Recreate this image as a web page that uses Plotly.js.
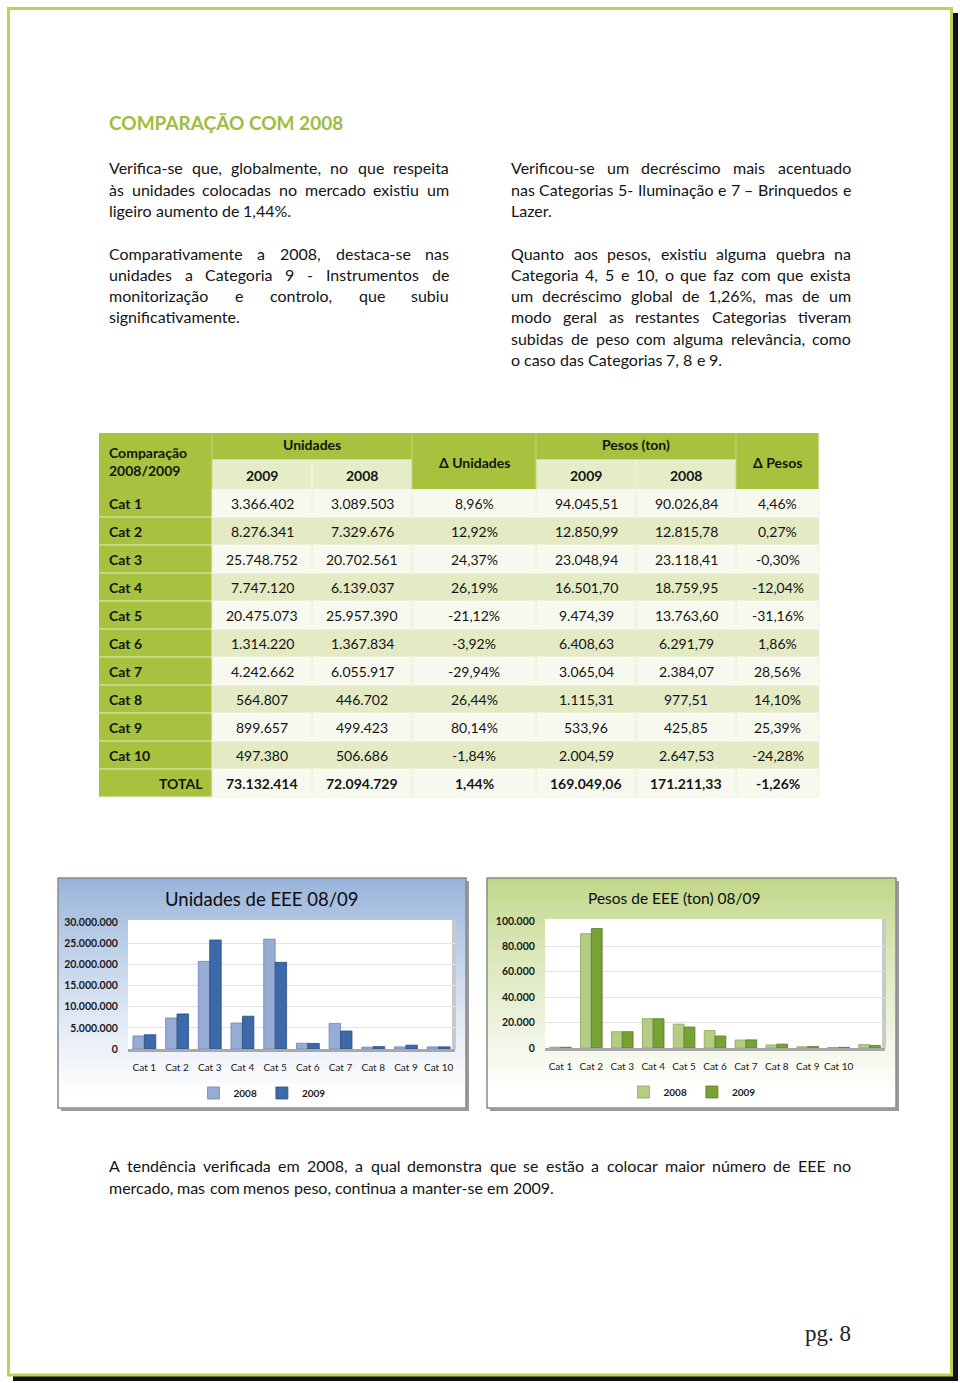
<!DOCTYPE html>
<html>
<head>
<meta charset="utf-8">
<script src="https://cdn.plot.ly/plotly-3.0.1.min.js"></script>
<style>
  html, body { margin: 0; padding: 0; background: #ffffff; }
  #page { width: 960px; height: 1383px; }
</style>
</head>
<body>
<div id="page"></div>
<script>
// ---------------- DATA ----------------
const categories = ['Cat 1', 'Cat 2', 'Cat 3', 'Cat 4', 'Cat 5', 'Cat 6', 'Cat 7', 'Cat 8', 'Cat 9', 'Cat 10'];
const units2009 = [3366402, 8276341, 25748752, 7747120, 20475073, 1314220, 4242662, 564807, 899657, 497380];
const units2008 = [3089503, 7329676, 20702561, 6139037, 25957390, 1367834, 6055917, 446702, 499423, 506686];
const unitsDelta = [8.96, 12.92, 24.37, 26.19, -21.12, -3.92, -29.94, 26.44, 80.14, -1.84];
const weights2009 = [94045.51, 12850.99, 23048.94, 16501.70, 9474.39, 6408.63, 3065.04, 1115.31, 533.96, 2004.59];
const weights2008 = [90026.84, 12815.78, 23118.41, 18759.95, 13763.60, 6291.79, 2384.07, 977.51, 425.85, 2647.53];
const weightsDelta = [4.46, 0.27, -0.30, -12.04, -31.16, 1.86, 28.56, 14.10, 25.39, -24.28];
const totalLabel = 'TOTAL';
const totalUnits2009 = 73132414;
const totalUnits2008 = 72094729;
const totalUnitsDelta = 1.44;
const totalWeights2009 = 169049.06;
const totalWeights2008 = 171211.33;
const totalWeightsDelta = -1.26;

// chart "Pesos" as drawn in the picture (one extra slot, series shifted)
const weightChartLabels = ['Cat 1', 'Cat 2', 'Cat 3', 'Cat 4', 'Cat 5', 'Cat 6', 'Cat 7', 'Cat 8', 'Cat 9', 'Cat 10', ' '];
const weightChart2008 = [600, 90026.84, 12815.78, 23118.41, 18759.95, 13763.60, 6291.79, 2384.07, 977.51, 425.85, 2647.53];
const weightChart2009 = [600, 94045.51, 12850.99, 23048.94, 16501.70, 9474.39, 6408.63, 3065.04, 1115.31, 533.96, 2004.59];

const seriesNames = ['2008', '2009'];
const chartTitles = ['Unidades de EEE 08/09', 'Pesos de EEE (ton) 08/09'];

const heading = 'COMPARAÇÃO COM 2008';
const leftParas = [
  ['Verifica-se que, globalmente, no que respeita', 'às unidades colocadas no mercado existiu um', 'ligeiro aumento de 1,44%.'],
  ['Comparativamente a 2008, destaca-se nas', 'unidades a Categoria 9 - Instrumentos de', 'monitorização e controlo, que subiu', 'significativamente.']
];
const rightParas = [
  ['Verificou-se um decréscimo mais acentuado', 'nas Categorias 5- Iluminação e 7 – Brinquedos e', 'Lazer.'],
  ['Quanto aos pesos, existiu alguma quebra na', 'Categoria 4, 5 e 10, o que faz com que exista', 'um decréscimo global de 1,26%, mas de um', 'modo geral as restantes Categorias tiveram', 'subidas de peso com alguma relevância, como', 'o caso das Categorias 7, 8 e 9.']
];
const bottomPara = ['A tendência verificada em 2008, a qual demonstra que se estão a colocar maior número de EEE no', 'mercado, mas com menos peso, continua a manter-se em 2009.'];
const tableHead = { corner: ['Comparação', '2008/2009'], units: 'Unidades', weights: 'Pesos (ton)', y2009: '2009', y2008: '2008', dUnits: 'Δ Unidades', dWeights: 'Δ Pesos' };
const pageLabel = 'pg. 8';

// ---------------- HELPERS ----------------
const W = 960, H = 1383;
const px = v => v / W;
const py = v => 1 - v / H;
const FONT = 'Lato';
const TXT = '#141414';

function fmtInt(n) { return String(Math.round(n)).replace(/\B(?=(\d{3})+(?!\d))/g, '.'); }
function fmtDec(n) {
  const s = Math.abs(n).toFixed(2).split('.');
  return (n < 0 ? '-' : '') + s[0].replace(/\B(?=(\d{3})+(?!\d))/g, '.') + ',' + s[1];
}
function fmtPct(n) { return n.toFixed(2).replace('.', ',') + '%'; }

const ctx = document.createElement('canvas').getContext('2d');
function measure(t, size, weight) { ctx.font = (weight || 400) + ' ' + size + 'px ' + FONT; return ctx.measureText(t).width; }

const anns = [];
const shapes = [];

function txt(x, y, text, opt) {
  opt = opt || {};
  anns.push({
    xref: 'paper', yref: 'paper', x: px(x), y: py(y), text: text, showarrow: false,
    xanchor: opt.xanchor || 'center', yanchor: 'middle', borderpad: 0, borderwidth: 0,
    font: { family: opt.family || FONT, size: opt.size || 14, color: opt.color || TXT, weight: opt.weight || 400 }
  });
}

function paragraph(lines, x0, x1, y0, lh, size) {
  lines.forEach((line, i) => {
    const y = y0 + i * lh;
    const last = i === lines.length - 1;
    const words = line.split(' ');
    const widths = words.map(w => measure(w, size));
    const total = widths.reduce((a, b) => a + b, 0);
    const space = measure(' ', size);
    let gap = (!last && words.length > 1) ? (x1 - x0 - total) / (words.length - 1) : space;
    if (gap < space * 0.7) gap = space * 0.7;
    let x = x0;
    words.forEach((w, k) => { txt(x, y, w, { xanchor: 'left', size: size }); x += widths[k] + gap; });
  });
}

function rect(x0, y0, x1, y1, fill, line, lw) {
  shapes.push({ type: 'rect', xref: 'paper', yref: 'paper', layer: 'below',
    x0: px(x0), x1: px(x1), y0: py(y0), y1: py(y1),
    fillcolor: fill || 'rgba(0,0,0,0)', line: { color: line || 'rgba(0,0,0,0)', width: lw || 0 } });
}
function seg(x0, y0, x1, y1, color, w) {
  shapes.push({ type: 'line', xref: 'paper', yref: 'paper', layer: 'below',
    x0: px(x0), x1: px(x1), y0: py(y0), y1: py(y1), line: { color: color, width: w } });
}
function hexToRgb(h) { return [1, 3, 5].map(i => parseInt(h.substr(i, 2), 16)); }
function mix(a, b, t) { const A = hexToRgb(a), B = hexToRgb(b); return 'rgb(' + A.map((v, i) => Math.round(v + (B[i] - v) * t)).join(',') + ')'; }
function gradientBox(x0, y0, x1, y1, top, n) {
  const h = (y1 - y0) / n;
  for (let i = 0; i < n; i++) {
    const t = Math.min(1, Math.pow(i / (n - 1), 0.85) * 1.05);
    rect(x0, y0 + i * h, x1, y0 + (i + 1) * h + 0.6, mix(top, '#ffffff', t));
  }
}

// ---------------- PAGE FRAME ----------------
rect(13, 1376, 958, 1381, '#111111');
rect(953, 13, 958, 1381, '#111111');
rect(8.5, 8.5, 951.5, 1375, null, '#bfd24f', 3);

// ---------------- TEXT ----------------
txt(109, 123, heading, { xanchor: 'left', size: 19, weight: 700, color: '#9dbd3c' });
paragraph(leftParas[0], 109, 449, 168, 21.3, 16);
paragraph(leftParas[1], 109, 449, 253, 21.3, 16);
paragraph(rightParas[0], 511, 851, 168, 21.3, 16);
paragraph(rightParas[1], 511, 851, 253, 21.3, 16);
paragraph(bottomPara, 109, 851, 1165, 22, 16);
txt(851, 1333, pageLabel, { xanchor: 'right', size: 23, family: 'Liberation Serif', color: '#222' });

// ---------------- TABLE ----------------
const colEdges = [99, 212, 312, 412, 536, 636, 736, 819];
const headTop = 433, headMid = 460, headBot = 489, rowH = 28;
const darkGreen = '#a7c23e', subHead = '#e5ecc8', rowLight = '#f7f9ee', rowGreen = '#e3eac4';
const nRows = categories.length + 1;
const tableBottom = headBot + nRows * rowH;

rect(colEdges[0], headTop, colEdges[7], headBot, darkGreen);
rect(colEdges[0], headBot, colEdges[1], tableBottom, darkGreen);
rect(colEdges[1], headMid, colEdges[3], headBot, subHead);
rect(colEdges[4], headMid, colEdges[6], headBot, subHead);
for (let r = 0; r < nRows; r++) {
  rect(colEdges[1], headBot + r * rowH, colEdges[7], headBot + (r + 1) * rowH, r % 2 === 0 ? rowLight : rowGreen);
}
// cell separators
seg(colEdges[1], headMid, colEdges[3], headMid, '#f4f7e6', 1);
seg(colEdges[4], headMid, colEdges[6], headMid, '#f4f7e6', 1);
[2, 5].forEach(c => seg(colEdges[c], headMid, colEdges[c], headBot, '#f4f7e6', 1));
[1, 3, 4, 6].forEach(c => seg(colEdges[c], headTop, colEdges[c], headBot, '#c4d67a', 1));
for (let c = 1; c < 7; c++) seg(colEdges[c], headBot, colEdges[c], tableBottom, '#e8eccd', 1);
for (let r = 1; r < nRows; r++) seg(colEdges[0], headBot + r * rowH, colEdges[7], headBot + r * rowH, 'rgba(255,255,255,0.7)', 1);
seg(colEdges[7], headTop, colEdges[7], tableBottom, '#eef2da', 1);
seg(colEdges[0], tableBottom, colEdges[7], tableBottom, '#eef2da', 1);

const colC = c => (colEdges[c] + colEdges[c + 1]) / 2;
txt(109, 452, tableHead.corner[0], { xanchor: 'left', weight: 700 });
txt(109, 471, tableHead.corner[1], { xanchor: 'left', weight: 700 });
txt((colEdges[1] + colEdges[3]) / 2, 444, tableHead.units, { weight: 700 });
txt((colEdges[4] + colEdges[6]) / 2, 444, tableHead.weights, { weight: 700 });
txt(colC(1), 475, tableHead.y2009, { weight: 700 });
txt(colC(2), 475, tableHead.y2008, { weight: 700 });
txt(colC(4), 475, tableHead.y2009, { weight: 700 });
txt(colC(5), 475, tableHead.y2008, { weight: 700 });
txt(colC(3), 462, tableHead.dUnits, { weight: 700 });
txt(colC(6), 462, tableHead.dWeights, { weight: 700 });

categories.forEach((cat, i) => {
  const y = headBot + i * rowH + rowH / 2 + 0.5;
  txt(109, y, cat, { xanchor: 'left', weight: 700 });
  txt(colC(1), y, fmtInt(units2009[i]));
  txt(colC(2), y, fmtInt(units2008[i]));
  txt(colC(3), y, fmtPct(unitsDelta[i]));
  txt(colC(4), y, fmtDec(weights2009[i]));
  txt(colC(5), y, fmtDec(weights2008[i]));
  txt(colC(6), y, fmtPct(weightsDelta[i]));
});
{
  const y = headBot + categories.length * rowH + rowH / 2 + 0.5;
  txt(203, y, totalLabel, { xanchor: 'right', weight: 700 });
  txt(colC(1), y, fmtInt(totalUnits2009), { weight: 700 });
  txt(colC(2), y, fmtInt(totalUnits2008), { weight: 700 });
  txt(colC(3), y, fmtPct(totalUnitsDelta), { weight: 700 });
  txt(colC(4), y, fmtDec(totalWeights2009), { weight: 700 });
  txt(colC(5), y, fmtDec(totalWeights2008), { weight: 700 });
  txt(colC(6), y, fmtPct(totalWeightsDelta), { weight: 700 });
}

// ---------------- CHART BOXES ----------------
const box1 = [58, 878, 466, 1108], box2 = [487, 878, 896, 1108];
const plot1 = [128, 922, 455, 1049], plot2 = [545, 921, 885, 1048];
[[box1, '#97b3da'], [box2, '#c0d688']].forEach(([b, c]) => {
  rect(b[0] + 3, b[1] + 3, b[2] + 3, b[3] + 3, '#9a9a9a');
  gradientBox(b[0], b[1], b[2], b[3], c, 46);
  rect(b[0], b[1], b[2], b[3], null, '#8a8a8a', 1.5);
});
[plot1, plot2].forEach(p => {
  rect(p[0], p[1] - 2, p[2], p[3], '#ffffff');
  rect(p[2] - 3, p[1] - 2, p[2] + 1, p[3], '#c9c9c9');
});
txt((box1[0] + box1[2]) / 2 - 1, 899, chartTitles[0], { size: 18.5, color: '#0d0d0d' });
txt((box2[0] + box2[2]) / 2 - 17, 898, chartTitles[1], { size: 15.5, color: '#0d0d0d' });

// ---------------- TRACES ----------------
const blue08 = '#96acd4', blue09 = '#3e69a8', green08 = '#b4cc84', green09 = '#78a136';
const traces = [
  { type: 'bar', x: categories, y: units2008, name: seriesNames[0], xaxis: 'x', yaxis: 'y', legend: 'legend',
    marker: { color: blue08, line: { color: '#6f86b3', width: 0.8 } } },
  { type: 'bar', x: categories, y: units2009, name: seriesNames[1], xaxis: 'x', yaxis: 'y', legend: 'legend',
    marker: { color: blue09, line: { color: '#264c86', width: 0.8 } } },
  { type: 'bar', x: weightChartLabels, y: weightChart2008, name: seriesNames[0], xaxis: 'x2', yaxis: 'y2', legend: 'legend2',
    marker: { color: green08, line: { color: '#8aa75a', width: 0.8 } } },
  { type: 'bar', x: weightChartLabels, y: weightChart2009, name: seriesNames[1], xaxis: 'x2', yaxis: 'y2', legend: 'legend2',
    marker: { color: green09, line: { color: '#587d22', width: 0.8 } } }
];

const tickFontY = { family: FONT, size: 10.5, color: '#1a1a1a', weight: 700 };
const tickFontX = { family: FONT, size: 10, color: '#1a1a1a', weight: 400 };
const xBase = {
  type: 'category', showgrid: false, showline: true, linecolor: '#a8a8a8', linewidth: 3,
  ticks: 'outside', ticklen: 7, tickcolor: 'rgba(0,0,0,0)', tickfont: tickFontX, fixedrange: true, zeroline: false
};
const yBase = {
  showgrid: true, gridcolor: '#e3e3e3', gridwidth: 1, zeroline: false, showline: false, tickformat: ',d',
  ticks: 'outside', ticklen: 7, tickcolor: 'rgba(0,0,0,0)', tickfont: tickFontY, fixedrange: true
};

const layout = {
  width: W, height: H, margin: { l: 0, r: 0, t: 0, b: 0 },
  paper_bgcolor: '#ffffff', plot_bgcolor: 'rgba(0,0,0,0)',
  font: { family: FONT, color: TXT },
  separators: ',.',
  barmode: 'group', bargap: 0.3, bargroupgap: 0,
  xaxis: Object.assign({}, xBase, { domain: [px(plot1[0]), px(plot1[2])], anchor: 'y' }),
  yaxis: Object.assign({}, yBase, { domain: [py(plot1[3]), py(plot1[1])], anchor: 'x', range: [0, 30000000], dtick: 5000000 }),
  xaxis2: Object.assign({}, xBase, { domain: [px(plot2[0]), px(plot2[2])], anchor: 'y2' }),
  yaxis2: Object.assign({}, yBase, { domain: [py(plot2[3]), py(plot2[1])], anchor: 'x2', range: [0, 100000], dtick: 20000 }),
  showlegend: true,
  legend: { orientation: 'h', x: px(262), y: py(1093), xanchor: 'center', yanchor: 'middle', bgcolor: 'rgba(0,0,0,0)',
    font: { family: FONT, size: 10, color: '#1a1a1a', weight: 700 }, itemwidth: 30, traceorder: 'normal' },
  legend2: { orientation: 'h', x: px(692), y: py(1092), xanchor: 'center', yanchor: 'middle', bgcolor: 'rgba(0,0,0,0)',
    font: { family: FONT, size: 10, color: '#1a1a1a', weight: 700 }, itemwidth: 30, traceorder: 'normal' },
  shapes: shapes,
  annotations: anns
};

Plotly.newPlot('page', traces, layout, { staticPlot: true, displayModeBar: false });
</script>
</body>
</html>
